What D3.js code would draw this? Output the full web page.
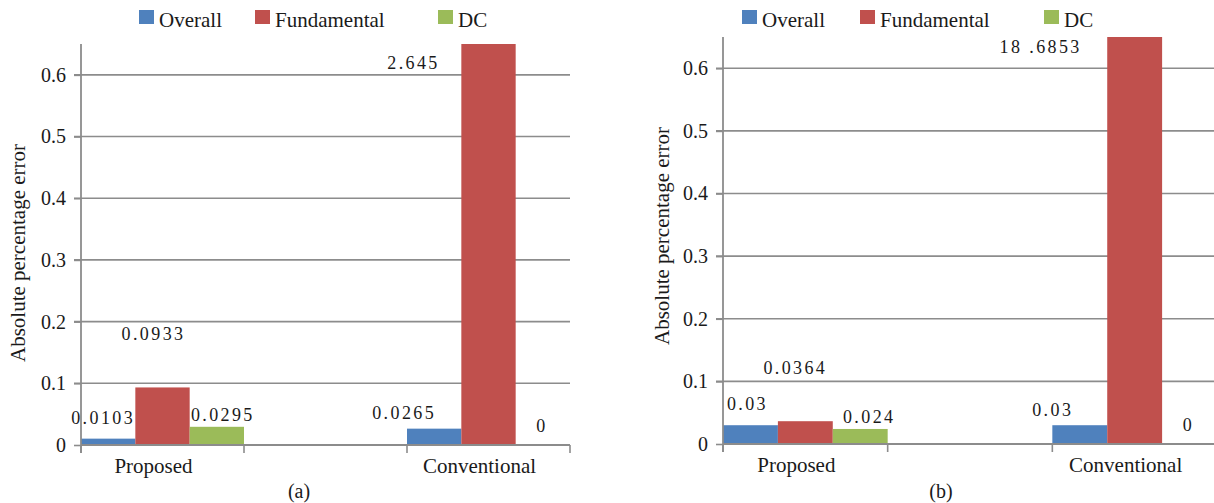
<!DOCTYPE html>
<html><head><meta charset="utf-8">
<script src="https://cdn.jsdelivr.net/npm/d3@7"></script>
<style>
html,body{margin:0;padding:0;background:#fff;}
svg{display:block;}
</style></head>
<body>
<svg id="chart" width="1214" height="503"></svg>
<script>
// ---- data ----
const categories = ["Proposed", "Conventional"];
const seriesNames = ["Overall", "Fundamental", "DC"];
const colors = ["#4F81BD", "#C0504D", "#9BBB59"];
const yTicks = [0, 0.1, 0.2, 0.3, 0.4, 0.5, 0.6];
const yMax = 0.65;
// panel (a)
const overallA = [0.0103, 0.0265];
const fundamentalA = [0.0933, 2.645];
const dcA = [0.0295, 0];
// panel (b)
const overallB = [0.03, 0.03];
const fundamentalB = [0.0364, 18.6853];
const dcB = [0.024, 0];
const labelsA = [["0.0103", "0.0265"], ["0.0933", "2.645"], ["0.0295", "0"]];
const labelsB = [["0.03", "0.03"], ["0.0364", "18 .6853"], ["0.024", "0"]];

// ---- layout (label nudges in px, series x category) ----
const nudgeA = [[[-5, -21], [-30, -16]], [[-9, -53], [-75, 19]], [[6, -12], [-1, -19]]];
const nudgeB = [[[-3, -21], [-27, -15]], [[-10, -53], [-94, 10]], [[9, -12], [-1, -19]]];

const FONT = "'Liberation Serif', 'DejaVu Serif', 'Times New Roman', Times, serif";
const svg = d3.select("#chart").attr("font-family", FONT);

function panel(cfg) {
  const g = svg.append("g").attr("font-family", FONT).attr("fill", "#1a1a1a");
  const slots = [categories[0], "gap", categories[1]];
  const x = d3.scaleBand().domain(slots).range([cfg.left, cfg.right]).padding(0);
  const xs = d3.scaleBand().domain(seriesNames).range([0, x.bandwidth()]).padding(0);
  const y = d3.scaleLinear().domain([0, yMax]).range([cfg.bottom, cfg.top]).clamp(true);

  // gridlines
  g.selectAll("line.grid").data(yTicks.filter(d => d > 0)).join("line")
    .attr("x1", cfg.left - 7).attr("x2", cfg.right)
    .attr("y1", d => y(d)).attr("y2", d => y(d))
    .attr("stroke", "#8c8c8c").attr("stroke-width", 1.6);

  const yAxis = d3.axisLeft(y).tickValues(yTicks).tickFormat(d => d === 0 ? "0" : d3.format(".1f")(d))
    .tickSize(7).tickPadding(8);
  const ya = g.append("g").attr("transform", `translate(${cfg.left},0)`).call(yAxis);
  ya.attr("font-family", FONT).attr("font-size", 20);
  ya.select(".domain").remove();
  ya.selectAll(".tick line").attr("stroke", "#8c8c8c").attr("stroke-width", 1.6);
  ya.selectAll(".tick text").attr("fill", "#1a1a1a");

  // bars
  cfg.series.forEach((vals, si) => {
    g.selectAll(null).data(categories).join("rect")
      .attr("x", (c) => x(c) + xs(seriesNames[si]))
      .attr("width", xs.bandwidth())
      .attr("y", (c, i) => y(vals[i]))
      .attr("height", (c, i) => y(0) - y(vals[i]))
      .attr("fill", colors[si]);
  });

  // axes lines
  g.append("line").attr("x1", cfg.left).attr("x2", cfg.left).attr("y1", cfg.top).attr("y2", cfg.bottom + 8)
    .attr("stroke", "#8c8c8c").attr("stroke-width", 1.8);
  g.append("line").attr("x1", cfg.left).attr("x2", cfg.right).attr("y1", cfg.bottom).attr("y2", cfg.bottom)
    .attr("stroke", "#8c8c8c").attr("stroke-width", 1.8);
  const edges = slots.map(s => x(s)).concat([x(slots[2]) + x.bandwidth()]);
  g.selectAll(null).data(edges).join("line")
    .attr("x1", d => d).attr("x2", d => d).attr("y1", cfg.bottom).attr("y2", cfg.bottom + 8)
    .attr("stroke", "#8c8c8c").attr("stroke-width", 1.6);

  // category labels
  g.selectAll(null).data(categories).join("text")
    .attr("x", c => x(c) + x.bandwidth() / 2 - 9)
    .attr("y", cfg.bottom + 28)
    .attr("text-anchor", "middle").attr("font-size", 21).text(c => c);

  // value labels
  cfg.series.forEach((vals, si) => {
    g.selectAll(null).data(categories).join("text")
      .attr("x", (c, i) => x(c) + xs(seriesNames[si]) + xs.bandwidth() / 2 + cfg.nudge[si][i][0])
      .attr("y", (c, i) => y(vals[i]) + cfg.nudge[si][i][1])
      .attr("dominant-baseline", "central")
      .attr("text-anchor", "middle").attr("font-size", 18).attr("letter-spacing", 2.4)
      .text((c, i) => cfg.labels[si][i]);
  });

  // y title
  g.append("text").attr("transform", `translate(${cfg.titleX},${cfg.titleY}) rotate(-90)`)
    .attr("text-anchor", "middle").attr("dominant-baseline", "central").attr("font-size", 21)
    .text("Absolute percentage error");

  // legend
  const lg = g.append("g");
  cfg.legendX.forEach((lx, i) => {
    lg.append("rect").attr("x", lx).attr("y", cfg.legendY - 15).attr("width", 15).attr("height", 14).attr("fill", colors[i]);
    lg.append("text").attr("x", lx + 20).attr("y", cfg.legendY + 2).attr("font-size", 21).text(seriesNames[i]);
  });

  // caption
  g.append("text").attr("x", cfg.captionX).attr("y", 498).attr("text-anchor", "middle").attr("font-size", 20).text(cfg.caption);
}

panel({
  left: 81, right: 570, top: 44, bottom: 445,
  series: [overallA, fundamentalA, dcA], labels: labelsA, nudge: nudgeA,
  titleX: 18, titleY: 253, legendX: [139, 255, 438], legendY: 25, captionX: 299, caption: "(a)"
});
panel({
  left: 723, right: 1217, top: 37, bottom: 444,
  series: [overallB, fundamentalB, dcB], labels: labelsB, nudge: nudgeB,
  titleX: 662, titleY: 236, legendX: [742, 860, 1044], legendY: 25, captionX: 941, caption: "(b)"
});
</script>
</body></html>
